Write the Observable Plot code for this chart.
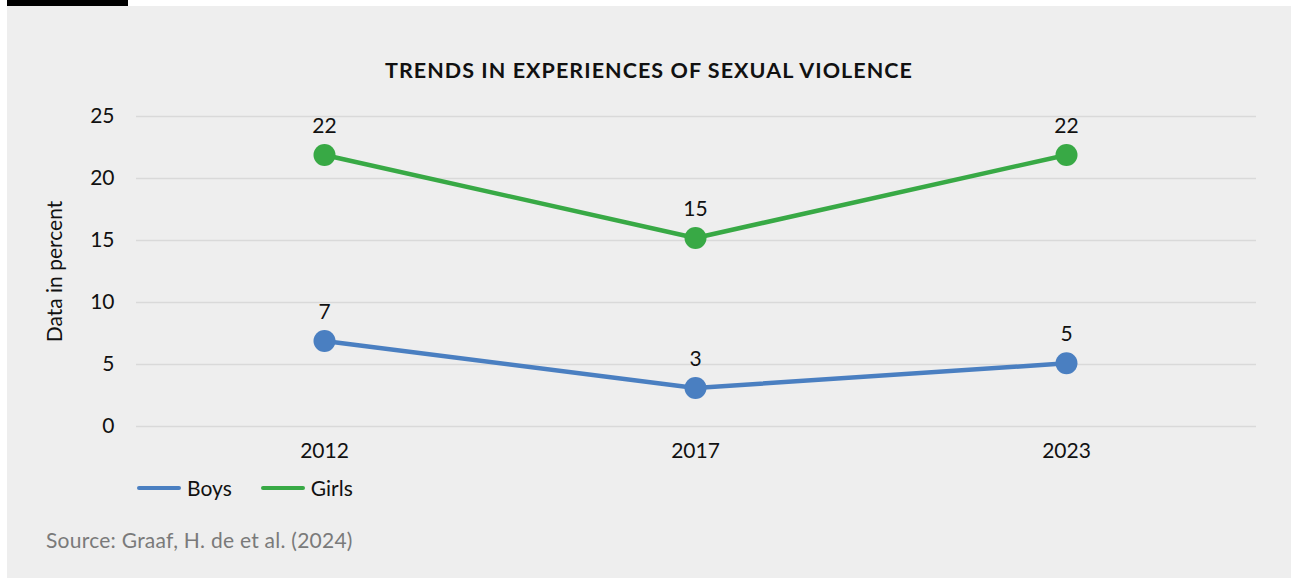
<!DOCTYPE html>
<html>
<head>
<meta charset="utf-8">
<script src="https://cdn.jsdelivr.net/npm/d3@7"></script>
<script src="https://cdn.jsdelivr.net/npm/@observablehq/plot@0.6"></script>
<style>
  html, body { margin: 0; padding: 0; background: #ffffff; width: 1291px; height: 578px; overflow: hidden; font-family: Lato, "Open Sans", sans-serif; }
  #bar { position: absolute; left: 7px; top: 0; width: 121px; height: 6px; background: #000; }
  #panel { position: absolute; left: 7px; top: 6px; width: 1284px; height: 572px; background: #eeeeee; }
  #title { position: absolute; left: 0; width: 1284px; top: 51px; text-align: center; font-weight: 700; font-size: 21.5px; color: #111; letter-spacing: 1.05px; line-height: 26px; }
  #chart { position: absolute; left: 0; top: 84px; }
  #legend { position: absolute; left: 130px; top: 469px; font-size: 21px; color: #111; display: flex; align-items: center; line-height: 26px; }
  .sw { display: inline-block; width: 44px; height: 4px; border-radius: 2px; margin-right: 6px; }
  .item { display: flex; align-items: center; margin-right: 29px; }
  #source { position: absolute; left: 39px; top: 521px; font-size: 21px; color: #7a7a7a; line-height: 26px; letter-spacing: 0.25px; }
</style>
</head>
<body>
<div id="bar"></div>
<div id="panel">
  <div id="title">TRENDS IN EXPERIENCES OF SEXUAL VIOLENCE</div>
  <div id="chart"></div>
  <div id="legend"></div>
  <div id="source">Source: Graaf, H. de et al. (2024)</div>
</div>
<script>
const years = ["2012", "2017", "2023"];
const boys = [6.9, 3.1, 5.1];
const girls = [21.9, 15.2, 21.9];
const boysLabels = ["7", "3", "5"];
const girlsLabels = ["22", "15", "22"];
const seriesNames = ["Boys", "Girls"];
const seriesColors = ["#4a7fc1", "#38a945"];
const yTicks = [0, 5, 10, 15, 20, 25];

const rows = [];
years.forEach((y, i) => {
  rows.push({year: y, value: boys[i], label: boysLabels[i], series: "Boys"});
  rows.push({year: y, value: girls[i], label: girlsLabels[i], series: "Girls"});
});

const plot = Plot.plot({
  width: 1284,
  height: 380,
  marginLeft: 129,
  marginRight: 35,
  marginTop: 26,
  marginBottom: 44,
  style: {background: "transparent", fontFamily: "Lato, 'Open Sans', sans-serif", fontSize: "21px", color: "#111"},
  x: {type: "point", domain: years, range: [317, 1059], padding: 0},
  y: {domain: [0, 25]},
  color: {domain: seriesNames, range: seriesColors},
  marks: [
    Plot.gridY(yTicks, {stroke: "#d9d9d9", strokeOpacity: 1, strokeWidth: 1.3}),
    Plot.axisY(yTicks, {tickSize: 0, tickPadding: 22, label: "Data in percent", labelAnchor: "center", labelArrow: "none", labelOffset: 89, fontSize: 21}),
    Plot.axisX({tickSize: 0, tickPadding: 17, label: null, fontSize: 21}),
    Plot.line(rows, {x: "year", y: "value", z: "series", stroke: "series", strokeWidth: 4.5}),
    Plot.dot(rows, {x: "year", y: "value", fill: "series", r: 11}),
    Plot.text(rows, {x: "year", y: "value", text: "label", dy: -29, fontSize: 21, fill: "#111"})
  ]
});
document.getElementById("chart").appendChild(plot);

const legend = document.getElementById("legend");
seriesNames.forEach((n, i) => {
  const it = document.createElement("div");
  it.className = "item";
  const sw = document.createElement("span");
  sw.className = "sw";
  sw.style.background = seriesColors[i];
  it.appendChild(sw);
  it.appendChild(document.createTextNode(n));
  legend.appendChild(it);
});
</script>
</body>
</html>
